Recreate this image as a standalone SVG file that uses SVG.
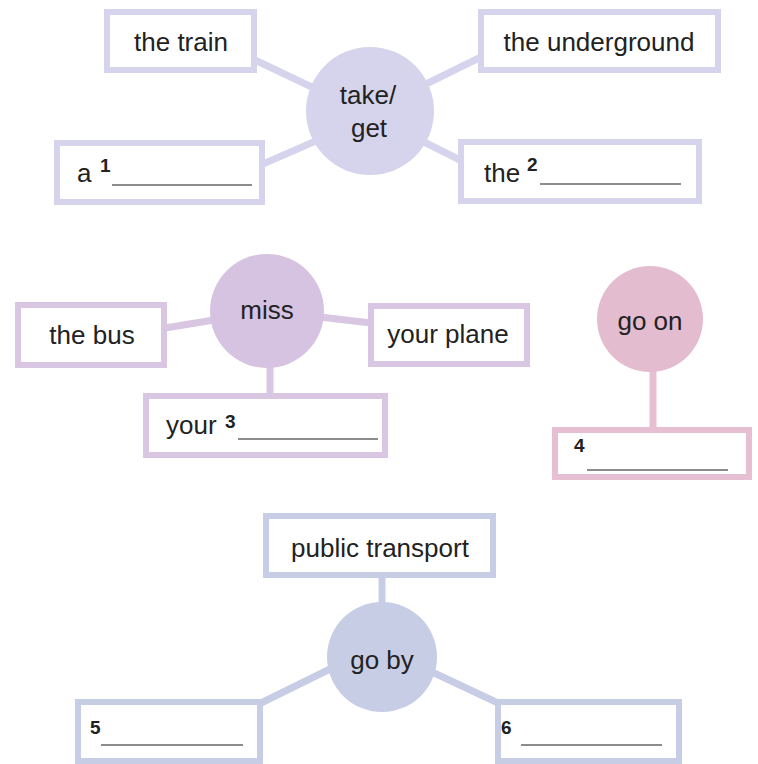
<svg xmlns="http://www.w3.org/2000/svg" width="758" height="764" viewBox="0 0 758 764">
<style>
  text { font-family: "Liberation Sans", Arial, sans-serif; fill: #222; }
  .lbl { font-size: 26px; }
  .num { font-size: 19px; font-weight: bold; }
  .box { fill: #fff; stroke-width: 6; }
  .blank { stroke: #666; stroke-width: 1.3; }
  .c1 { stroke: #d6d4ec; }
  .c2 { stroke: #d8c6e2; }
  .c3 { stroke: #e6bfd2; }
  .c4 { stroke: #c8cde6; }
  .f1 { fill: #d6d4ec; }
  .f2 { fill: #d6c3e1; }
  .f3 { fill: #e4bcd0; }
  .f4 { fill: #c8cde6; }
  .conn line { stroke-width: 7; }
</style>
<g id="connectors" class="conn">
  <line class="c1" x1="255" y1="60" x2="318" y2="90"/>
  <line class="c1" x1="422" y1="86" x2="481" y2="57"/>
  <line class="c1" x1="263" y1="164" x2="318" y2="140"/>
  <line class="c1" x1="422" y1="141" x2="462" y2="161"/>
  <line class="c2" x1="165" y1="328" x2="214" y2="320"/>
  <line class="c2" x1="320" y1="317" x2="371" y2="323"/>
  <line class="c2" x1="270" y1="362" x2="270" y2="396"/>
  <line class="c3" x1="653" y1="368" x2="653" y2="430"/>
  <line class="c4" x1="382" y1="576" x2="382" y2="606"/>
  <line class="c4" x1="261" y1="703" x2="334" y2="667"/>
  <line class="c4" x1="430" y1="671" x2="498" y2="703"/>
</g>
<g id="take-get">
  <circle class="f1" cx="370" cy="111" r="64"/>
  <text class="lbl" x="368" y="104" text-anchor="middle">take/</text>
  <text class="lbl" x="369" y="137" text-anchor="middle">get</text>
</g>
<g id="the-train">
  <rect class="box c1" x="107" y="12" width="147" height="58"/>
  <text class="lbl" x="181" y="51" text-anchor="middle">the train</text>
</g>
<g id="the-underground">
  <rect class="box c1" x="481" y="12" width="237" height="58"/>
  <text class="lbl" x="599" y="51" text-anchor="middle">the underground</text>
</g>
<g id="a-1">
  <rect class="box c1" x="57" y="143" width="205" height="59"/>
  <text class="lbl" x="77" y="182">a</text>
  <text class="num" x="100" y="172">1</text>
  <line class="blank" x1="112" y1="185" x2="252" y2="185"/>
</g>
<g id="the-2">
  <rect class="box c1" x="461" y="142" width="238" height="59"/>
  <text class="lbl" x="484" y="182">the</text>
  <text class="num" x="527" y="171">2</text>
  <line class="blank" x1="540" y1="184" x2="681" y2="184"/>
</g>
<g id="miss">
  <circle class="f2" cx="267" cy="311" r="57"/>
  <text class="lbl" x="267" y="319" text-anchor="middle">miss</text>
</g>
<g id="the-bus">
  <rect class="box c2" x="18" y="305" width="146" height="60"/>
  <text class="lbl" x="92" y="344" text-anchor="middle">the bus</text>
</g>
<g id="your-plane">
  <rect class="box c2" x="371" y="306" width="156" height="58"/>
  <text class="lbl" x="448" y="343" text-anchor="middle">your plane</text>
</g>
<g id="your-3">
  <rect class="box c2" x="146" y="396" width="239" height="59"/>
  <text class="lbl" x="166" y="434">your</text>
  <text class="num" x="225" y="428">3</text>
  <line class="blank" x1="238" y1="439" x2="378" y2="439"/>
</g>
<g id="go-on">
  <circle class="f3" cx="650" cy="319" r="53"/>
  <text class="lbl" x="650" y="330" text-anchor="middle">go on</text>
</g>
<g id="blank-4">
  <rect class="box c3" x="555" y="430" width="194" height="47"/>
  <text class="num" x="574" y="452">4</text>
  <line class="blank" x1="587" y1="470" x2="728" y2="470"/>
</g>
<g id="public-transport">
  <rect class="box c4" x="266" y="516" width="227" height="59"/>
  <text class="lbl" x="380" y="557" text-anchor="middle">public transport</text>
</g>
<g id="go-by">
  <circle class="f4" cx="382" cy="657" r="55"/>
  <text class="lbl" x="382" y="669" text-anchor="middle">go by</text>
</g>
<g id="blank-5">
  <rect class="box c4" x="78" y="702" width="182" height="59"/>
  <text class="num" x="90" y="734">5</text>
  <line class="blank" x1="101" y1="745" x2="243" y2="745"/>
</g>
<g id="blank-6">
  <rect class="box c4" x="498" y="702" width="181" height="59"/>
  <text class="num" x="501" y="734">6</text>
  <line class="blank" x1="521" y1="745" x2="662" y2="745"/>
</g>
</svg>
